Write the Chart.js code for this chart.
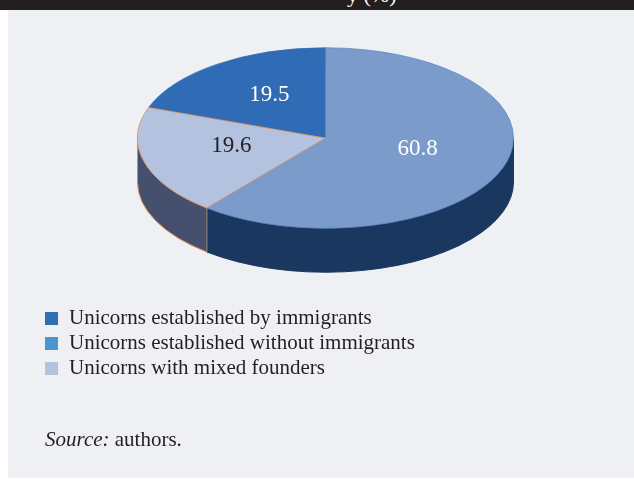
<!DOCTYPE html>
<html>
<head>
<meta charset="utf-8">
<script src="https://cdn.jsdelivr.net/npm/chart.js@4.4.0/dist/chart.umd.min.js"></script>
<style>
  html, body { margin: 0; padding: 0; background: #ffffff; }
  #page { position: relative; width: 634px; height: 479px; overflow: hidden; }
  #bar { position: absolute; left: 0; top: 0; width: 634px; height: 10px; background: #231f20; overflow: hidden; }
  #bar span { position: absolute; left: 347px; top: -18px; color: #fff; font: 22px "Liberation Serif", serif; }
  #panel { position: absolute; left: 8px; top: 10px; width: 626px; height: 468px; background: #eef0f4; }
  #chartWrap { position: absolute; left: 0; top: 0; width: 634px; height: 479px; }
  #legend { position: absolute; left: 45px; top: 305px; font: 21px "Liberation Serif", serif; color: #231f20; }
  #legend div { height: 25px; line-height: 25px; white-space: nowrap; }
  #legend i { display: inline-block; width: 13px; height: 13px; margin-right: 11px; vertical-align: -1px; }
  #source { position: absolute; left: 45px; top: 427px; font: 21px "Liberation Serif", serif; color: #231f20; }
</style>
</head>
<body>
<div id="page">
  <div id="panel"></div>
  <div id="bar"><span>y (%)</span></div>
  <div id="chartWrap"><canvas id="pieChart" width="634" height="479"></canvas></div>
  <div id="legend"></div>
  <div id="source"><i>Source:</i> authors.</div>
</div>
<script>
// data, in legend order
const categories = ["Unicorns established by immigrants", "Unicorns established without immigrants", "Unicorns with mixed founders"];
const shares = [19.5, 60.8, 19.6];
const sliceColors = ["#2f6cb5", "#7b9bca", "#b3c2de"];
const sideColors = ["#1d4577", "#1a3760", "#45506f"];
const edgeColors = ["#2f6cb5", "#5a86c6", "#e08a4c"];
const legendColors = ["#2f6db5", "#4a97d0", "#b3c3df"];
const labelColors = ["#ffffff", "#ffffff", "#231f20"];

const tilt = 0.48;     // vertical squash of the pie
const depth = 44;      // thickness of the pie in px
const centerY = 138;   // where the top face sits on the page

// legend
document.getElementById("legend").innerHTML = categories
  .map((c, i) => `<div><i style="background:${legendColors[i]}"></i>${c}</div>`).join('');

// squash the pie and draw the side walls under it
const pie3d = {
  id: 'pie3d',
  beforeDatasetsDraw(chart) {
    const ctx = chart.ctx;
    const arcs = chart.getDatasetMeta(0).data;
    const cx = arcs[0].x, cy = arcs[0].y, r = arcs[0].outerRadius;
    const ry = r * tilt;

    // walls, only the front half (0..PI) shows
    arcs.forEach((a, i) => {
      [-2 * Math.PI, 0, 2 * Math.PI].forEach(shift => {
        const s = Math.max(a.startAngle + shift, 0);
        const e = Math.min(a.endAngle + shift, Math.PI);
        if (s >= e) return;
        ctx.beginPath();
        ctx.ellipse(cx, centerY, r, ry, 0, s, e, false);
        ctx.ellipse(cx, centerY + depth, r, ry, 0, e, s, true);
        ctx.closePath();
        ctx.fillStyle = sideColors[i];
        ctx.fill();
        ctx.lineWidth = 1;
        ctx.strokeStyle = i === 2 ? edgeColors[i] : sideColors[i];
        ctx.stroke();
      });
    });
    // seam between wall pieces
    arcs.forEach(a => {
      const ang = ((a.startAngle % (2 * Math.PI)) + 2 * Math.PI) % (2 * Math.PI);
      if (ang > 0 && ang < Math.PI) {
        const x = cx + Math.cos(ang) * r, y = centerY + Math.sin(ang) * ry;
        ctx.beginPath();
        ctx.moveTo(x, y);
        ctx.lineTo(x, y + depth);
        ctx.strokeStyle = '#6b6f7e';
        ctx.stroke();
      }
    });

    ctx.save();
    ctx.translate(cx, centerY);
    ctx.scale(1, tilt);
    ctx.translate(-cx, -cy);
  },
  afterDatasetsDraw(chart) {
    const ctx = chart.ctx;
    ctx.restore();
    const arcs = chart.getDatasetMeta(0).data;
    ctx.font = '23px "Liberation Serif", serif';
    ctx.textAlign = 'center';
    ctx.textBaseline = 'middle';
    arcs.forEach((a, i) => {
      const mid = (a.startAngle + a.endAngle) / 2;
      const f = 0.52;
      const x = a.x + Math.cos(mid) * a.outerRadius * f;
      const y = centerY - 5 + Math.sin(mid) * a.outerRadius * tilt * f;
      ctx.fillStyle = labelColors[i];
      ctx.fillText(shares[i].toFixed(1), x, y);
    });
  }
};

const ctx = document.getElementById("pieChart").getContext("2d");
new Chart(ctx, {
  type: 'pie',
  data: {
    labels: categories,
    datasets: [{
      data: shares,
      backgroundColor: sliceColors,
      borderColor: edgeColors,
      borderWidth: 1
    }]
  },
  options: {
    responsive: false,
    animation: false,
    rotation: -shares[0] * 3.6,
    layout: { padding: { left: 137, right: 120, top: 0, bottom: 0 } },
    plugins: {
      legend: { display: false },
      tooltip: { enabled: false }
    }
  },
  plugins: [pie3d]
});
</script>
</body>
</html>
